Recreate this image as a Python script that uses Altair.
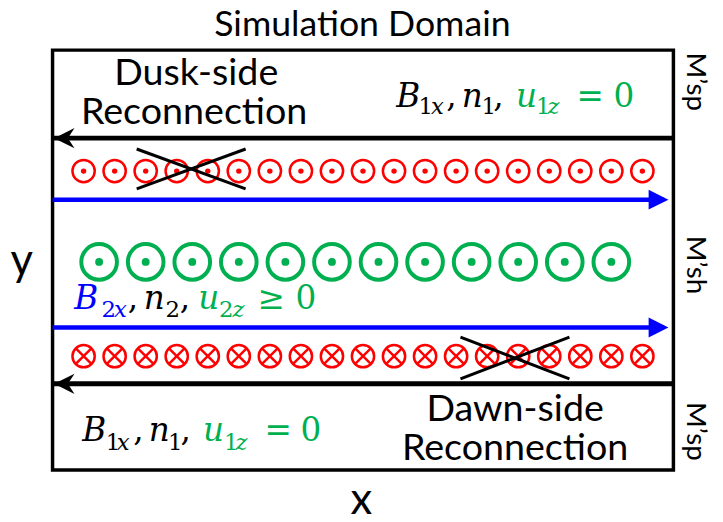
import altair as alt
import pandas as pd

# Schematic coordinate system: x runs across the simulation box (0..20),
# y runs up the box (0..13.5).
X_DOMAIN = [0, 20]
Y_DOMAIN = [0, 13.5]

# Red current-sheet symbols (dusk side: out of page, dawn side: into page)
red_x = [1, 2, 3, 4, 5, 6, 7, 8, 9, 10, 11, 12, 13, 14, 15, 16, 17, 18, 19]
dusk_row_y = 9.61
dawn_row_y = 3.66

# Green flow symbols (out of page) in the magnetosheath
green_x = [1.5, 3, 4.5, 6, 7.5, 9, 10.5, 12, 13.5, 15, 16.5, 18]
green_row_y = 6.69

# Field lines: black (magnetosphere, pointing -x), blue (sheath, pointing +x)
black_line_y = [10.67, 2.77]
black_head_x = [0.38, 0.38]
blue_line_y = [8.69, 4.58]
blue_head_x = [19.52, 19.52]

# Reconnection X marks: two strokes each (x1, y1, x2, y2)
xmark_x1 = [2.71, 2.71, 13.14, 13.14]
xmark_y1 = [10.32, 9.04, 4.27, 2.93]
xmark_x2 = [6.22, 6.22, 16.65, 16.65]
xmark_y2 = [9.04, 10.32, 2.93, 4.27]

# Plain labels
label_text = ["Dusk-side", "Reconnection", "Dawn-side", "Reconnection"]
label_x = [4.63, 4.56, 14.90, 14.90]
label_y = [12.38, 11.11, 1.59, 0.32]

side_text = ["M\u2019sp", "M\u2019sh", "M\u2019sp"]
side_x = [20.70, 20.70, 20.70]
side_y = [12.48, 6.59, 1.24]

BLACK, GREEN, BLUE, RED = "#000000", "#00B050", "#0000FF", "#FF0000"

# Formula pieces: (text, x, y, colour, kind) ; kind: "m" main size, "s" subscript
formula_italic = [
    # B1x, n1, u1z = 0 (upper right)
    ("B", 11.07, 11.68, BLACK, "m"), ("x", 12.19, 11.43, BLACK, "s"),
    ("n", 13.18, 11.68, BLACK, "m"), ("u", 14.93, 11.68, GREEN, "m"),
    ("z", 15.94, 11.43, GREEN, "s"),
    # B1x, n1, u1z = 0 (lower left)
    ("B", 0.96, 0.92, BLACK, "m"), ("x", 2.07, 0.64, BLACK, "s"),
    ("n", 3.10, 0.92, BLACK, "m"), ("u", 4.85, 0.92, GREEN, "m"),
    ("z", 5.89, 0.64, GREEN, "s"),
    # B2x, n2, u2z >= 0 (sheath)
    ("B", 0.70, 5.16, BLUE, "m"), ("x", 1.98, 4.93, BLUE, "s"),
    ("n", 2.94, 5.16, BLACK, "m"), ("u", 4.69, 5.16, GREEN, "m"),
    ("z", 5.80, 4.93, GREEN, "s"),
]
formula_upright = [
    ("1", 11.79, 11.43, BLACK, "s"), (",", 12.68, 11.68, BLACK, "m"),
    ("1", 13.82, 11.43, BLACK, "s"), (",", 14.20, 11.68, BLACK, "m"),
    ("1", 15.57, 11.43, GREEN, "s"), ("=", 16.88, 11.68, GREEN, "m"),
    ("0", 18.07, 11.68, GREEN, "m"),
    ("1", 1.71, 0.64, BLACK, "s"), (",", 2.60, 0.92, BLACK, "m"),
    ("1", 3.72, 0.64, BLACK, "s"), (",", 4.12, 0.92, BLACK, "m"),
    ("1", 5.52, 0.64, GREEN, "s"), ("=", 6.83, 0.92, GREEN, "m"),
    ("0", 7.99, 0.92, GREEN, "m"),
    ("2", 1.58, 4.93, BLUE, "s"), (",", 2.42, 5.16, BLACK, "m"),
    ("2", 3.64, 4.93, BLACK, "s"), (",", 4.10, 5.16, BLACK, "m"),
    ("2", 5.36, 4.93, GREEN, "s"), ("\u2265", 6.60, 5.16, GREEN, "m"),
    ("0", 7.83, 5.16, GREEN, "m"),
]

TITLE = "Simulation Domain"
title_pos = (9.98, 13.94)
X_LABEL, Y_LABEL = "x", "y"
axis_label_x = [9.95, -0.99]
axis_label_y = [-0.99, 6.69]

# ---------------------------------------------------------------------------
xs = alt.Scale(domain=X_DOMAIN, nice=False, zero=False)
ys = alt.Scale(domain=Y_DOMAIN, nice=False, zero=False)


def X(f="x"):
    return alt.X(f"{f}:Q", scale=xs, axis=None)


def Y(f="y"):
    return alt.Y(f"{f}:Q", scale=ys, axis=None)


red_top = pd.DataFrame({"x": red_x, "y": [dusk_row_y] * len(red_x)})
red_bot = pd.DataFrame({"x": red_x, "y": [dawn_row_y] * len(red_x)})
green = pd.DataFrame({"x": green_x, "y": [green_row_y] * len(green_x)})

black_lines = pd.DataFrame({"y": black_line_y, "x": [X_DOMAIN[0]] * 2, "x2": [X_DOMAIN[1]] * 2})
blue_lines = pd.DataFrame({"y": blue_line_y, "x": [X_DOMAIN[0]] * 2, "x2": [X_DOMAIN[1] - 0.3] * 2})
black_heads = pd.DataFrame({"x": black_head_x, "y": black_line_y})
blue_heads = pd.DataFrame({"x": blue_head_x, "y": blue_line_y})
xmarks = pd.DataFrame({"x": xmark_x1, "y": xmark_y1, "x2": xmark_x2, "y2": xmark_y2})

circle_size_red = 506
circle_size_green = 1296

layers = []

# field lines
layers.append(alt.Chart(black_lines).mark_rule(color=BLACK, strokeWidth=5).encode(
    x=X(), x2="x2:Q", y=Y()))
layers.append(alt.Chart(blue_lines).mark_rule(color=BLUE, strokeWidth=4.5).encode(
    x=X(), x2="x2:Q", y=Y()))
layers.append(alt.Chart(black_heads).mark_point(
    shape="M -1 0 L 1 -1 L 0.35 0 L 1 1 Z", filled=True, color=BLACK, size=420, opacity=1
).encode(x=X(), y=Y()))
layers.append(alt.Chart(blue_heads).mark_point(
    shape="M 1 0 L -1 -1 L -1 1 Z", filled=True, color=BLUE, size=400, opacity=1
).encode(x=X(), y=Y()))

# red dotted circles (dusk)
layers.append(alt.Chart(red_top).mark_point(
    shape="circle", filled=False, color=RED, strokeWidth=2.5, size=circle_size_red, opacity=1
).encode(x=X(), y=Y()))
layers.append(alt.Chart(red_top).mark_point(
    shape="circle", filled=True, color=RED, size=30, opacity=1
).encode(x=X(), y=Y()))
# red crossed circles (dawn)
layers.append(alt.Chart(red_bot).mark_point(
    shape="circle", filled=False, color=RED, strokeWidth=2.5, size=circle_size_red, opacity=1
).encode(x=X(), y=Y()))
layers.append(alt.Chart(red_bot).mark_point(
    shape="M -0.7 -0.7 L 0.7 0.7 M -0.7 0.7 L 0.7 -0.7", filled=False, color=RED,
    strokeWidth=2.5, size=circle_size_red, opacity=1
).encode(x=X(), y=Y()))
# green circles
layers.append(alt.Chart(green).mark_point(
    shape="circle", filled=False, color=GREEN, strokeWidth=4, size=circle_size_green, opacity=1
).encode(x=X(), y=Y()))
layers.append(alt.Chart(green).mark_point(
    shape="circle", filled=True, color=GREEN, size=64, opacity=1
).encode(x=X(), y=Y()))

# reconnection X marks
layers.append(alt.Chart(xmarks).mark_rule(color=BLACK, strokeWidth=3).encode(
    x=X(), y=Y(), x2="x2:Q", y2="y2:Q"))

# formulas
def fdf(rows):
    return pd.DataFrame({
        "text": [r[0] for r in rows],
        "x": [r[1] for r in rows],
        "y": [r[2] for r in rows],
        "color": [r[3] for r in rows],
        "size": [33 if r[4] == "m" else 23 for r in rows],
    })


for rows, style in ((formula_italic, "italic"), (formula_upright, "normal")):
    layers.append(alt.Chart(fdf(rows)).mark_text(
        font="DejaVu Serif", fontStyle=style, align="left", baseline="alphabetic"
    ).encode(x=X(), y=Y(), text="text:N",
             color=alt.Color("color:N", scale=None),
             size=alt.Size("size:Q", scale=None)))

# labels
lab = pd.DataFrame({"text": label_text, "x": label_x, "y": label_y})
layers.append(alt.Chart(lab).mark_text(
    font="Lato", fontSize=38, align="center", baseline="alphabetic", color=BLACK
).encode(x=X(), y=Y(), text="text:N"))

side = pd.DataFrame({"text": side_text, "x": side_x, "y": side_y})
layers.append(alt.Chart(side).mark_text(
    font="Lato", fontSize=28, align="center", baseline="middle", angle=90, color=BLACK
).encode(x=X(), y=Y(), text="text:N"))

title = pd.DataFrame({"text": [TITLE], "x": [title_pos[0]], "y": [title_pos[1]]})
layers.append(alt.Chart(title).mark_text(
    font="Lato", fontSize=36, align="center", baseline="alphabetic", color=BLACK
).encode(x=X(), y=Y(), text="text:N"))

axes_lab = pd.DataFrame({"text": [X_LABEL, Y_LABEL], "x": axis_label_x, "y": axis_label_y})
layers.append(alt.Chart(axes_lab).mark_text(
    font="Lato", fontSize=44, align="center", baseline="middle", color=BLACK
).encode(x=X(), y=Y(), text="text:N"))

chart = alt.layer(*layers).properties(
    width=627, height=424,
    padding={"left": 45, "top": 40, "right": 42, "bottom": 48},
    autosize=alt.AutoSizeParams(type="none"),
    background="white",
).configure_view(stroke=BLACK, strokeWidth=3.5)

chart.save("out.html", embed_options={"renderer": "svg", "actions": False})
